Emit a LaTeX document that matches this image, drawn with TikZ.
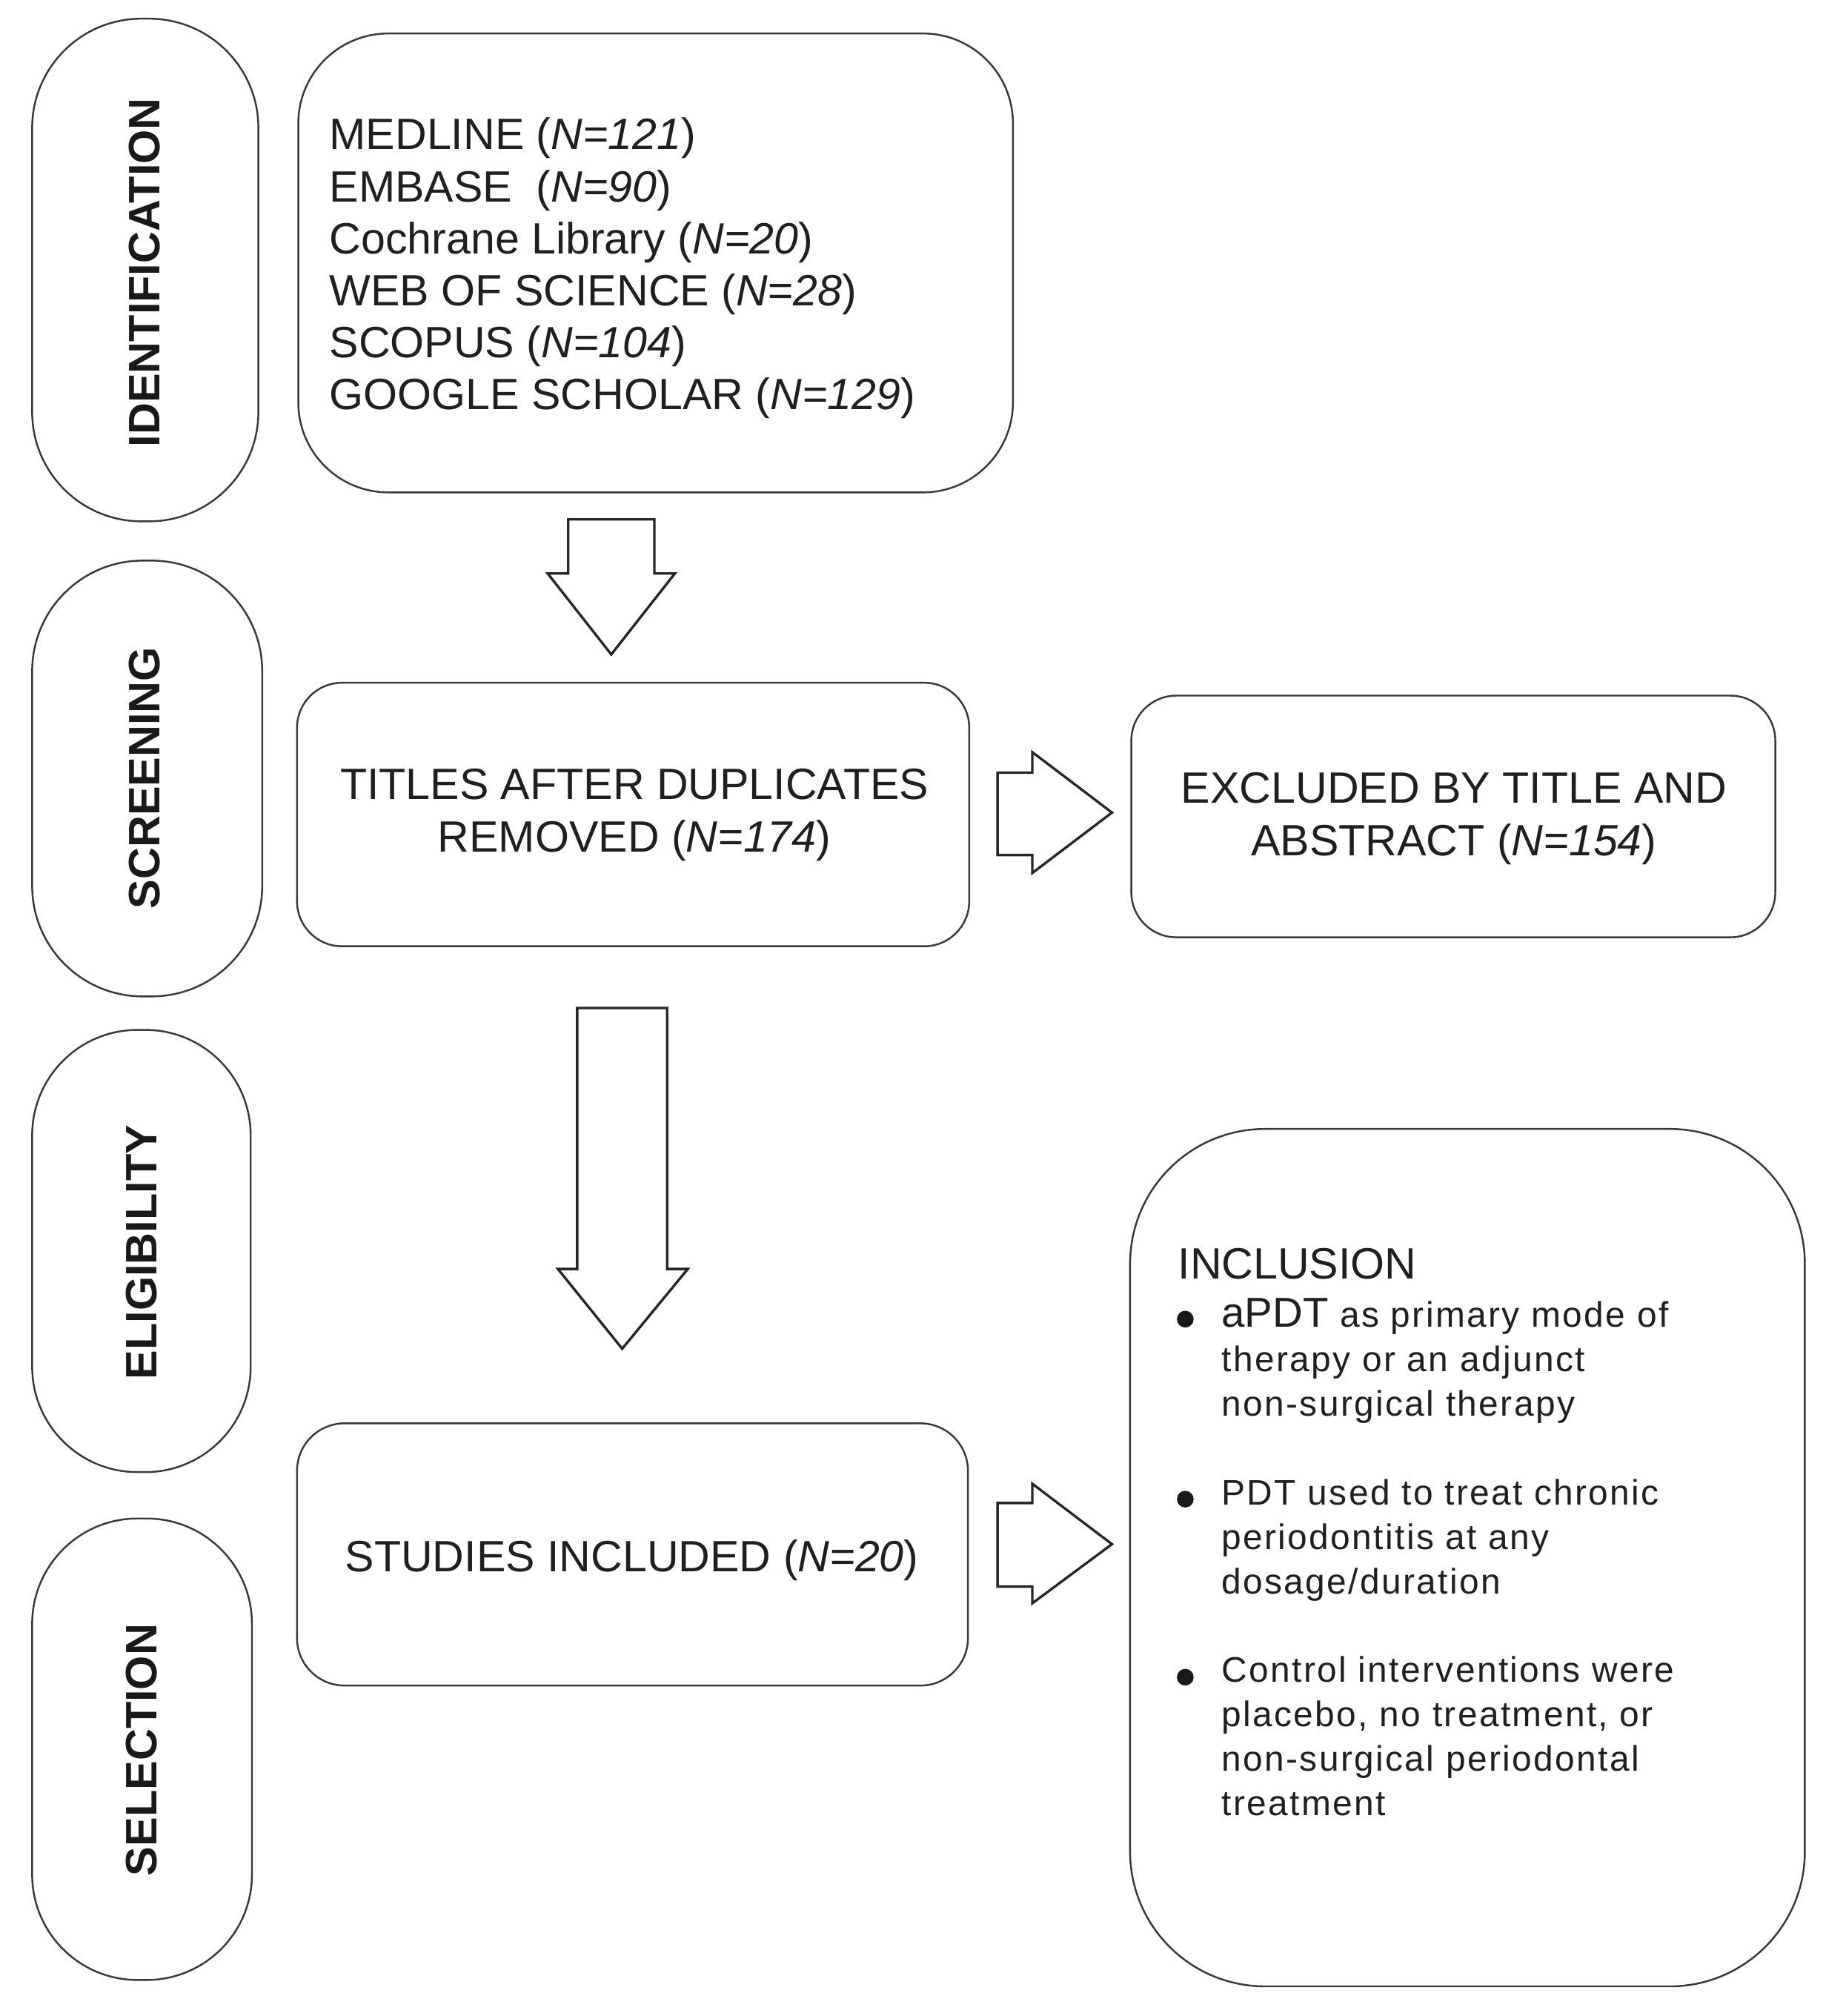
\documentclass[tikz,border=0pt]{standalone}
\usepackage{fontspec}
\setmainfont{Liberation Sans}
\newfontfamily\incfont{Liberation Sans}[LetterSpace=5.0]
\newcommand\apdt{{\rmfamily\fontsize{18.5}{19.7}\selectfont aPDT}}
\newcommand\ind{\hspace*{0.68cm}}
\begin{document}
\begin{tikzpicture}[x=0.02cm,y=-0.02cm,
  box/.style={draw=black!78, line width=0.8pt, rounded corners=#1, inner sep=0pt},
  box/.default=0.7cm,
  pilltext/.style={rotate=90, inner sep=0pt, text=black!90, font=\bfseries\fontsize{19.5}{23}\selectfont},
  maintext/.style={inner sep=0pt, text=black!88, font=\fontsize{19.4}{23.2}\selectfont},
  barrow/.style={draw=black!85, line width=1.1pt, fill=white, line join=miter}]
\useasboundingbox (0,0) rectangle (1420,1568);

% phase pills
\node[box=1.7cm, minimum width=3.52cm, minimum height=7.82cm] (idp) at (113,210) {};
\node[pilltext] (idt) at (112.5,212) {IDENTIFICATION};
\node[box=1.72cm, minimum width=3.58cm, minimum height=6.78cm] (scp) at (114.5,605.5) {};
\node[pilltext] (sct) at (112.5,605) {SCREENING};
\node[box=1.64cm, minimum width=3.40cm, minimum height=6.88cm] (elp) at (110,973) {};
\node[pilltext] (elt) at (110,974) {ELIGIBILITY};
\node[box=1.64cm, minimum width=3.42cm, minimum height=7.18cm] (slp) at (110.5,1360.5) {};
\node[pilltext] (slt) at (110,1361) {SELECTION};

% boxes
\node[box=1.4cm, minimum width=11.12cm, minimum height=7.14cm] (src) at (510,204.5) {};
\node[maintext, anchor=north west, align=left, font=\fontsize{19.4}{23.04}\selectfont] (srct) at (256,91.3)
  {MEDLINE (\textit{N=121})\\
   EMBASE\ \ (\textit{N=90})\\
   Cochrane Library (\textit{N=20})\\
   WEB OF SCIENCE (\textit{N=28})\\
   SCOPUS (\textit{N=104})\\
   GOOGLE SCHOLAR (\textit{N=129})};

\node[box, minimum width=10.46cm, minimum height=4.10cm] (tit) at (492.5,633.5) {};
\node[maintext, align=center] (titt) at (493.5,634) {TITLES AFTER DUPLICATES\\REMOVED (\textit{N=174})};

\node[box, minimum width=10.02cm, minimum height=3.76cm] (exc) at (1130.5,635) {};
\node[maintext, align=center] (exct) at (1131,636.5) {EXCLUDED BY TITLE AND\\ABSTRACT (\textit{N=154})};

\node[box=0.74cm, minimum width=10.44cm, minimum height=4.08cm] (stu) at (492,1209) {};
\node[maintext] (stut) at (491.5,1213.4) {STUDIES INCLUDED (\textit{N=20})};

\node[box=2.1cm, minimum width=10.5cm, minimum height=13.34cm] (inc) at (1141.5,1211.5) {};
\node[inner sep=0pt, anchor=north west, align=left, text=black!88,
      font=\incfont\fontsize{15.7}{19.7}\selectfont] (inct) at (916,970.5)
  {{\rmfamily\fontsize{19.4}{19.7}\selectfont INCLUSION}\\[1.7pt]
   \ind\apdt{} as primary mode of\\
   \ind therapy or an adjunct\\
   \ind non-surgical therapy\\[19.5pt]
   \ind PDT used to treat chronic\\
   \ind periodontitis at any\\
   \ind dosage/duration\\[19.5pt]
   \ind Control interventions were\\
   \ind placebo, no treatment, or\\
   \ind non-surgical periodontal\\
   \ind treatment};
\fill[black!90] (922,1026) circle (0.13cm);
\fill[black!90] (922,1166) circle (0.13cm);
\fill[black!90] (922,1304.5) circle (0.13cm);

% block arrows
\draw[barrow] (442,404) -- (509,404) -- (509,446) -- (525,446) -- (475.5,509) -- (426,446) -- (442,446) -- cycle;
\draw[barrow] (449,784) -- (519,784) -- (519,987) -- (535,987) -- (484,1049) -- (434,987) -- (449,987) -- cycle;
\draw[barrow] (776,601) -- (803,601) -- (803,585) -- (865,632) -- (803,679) -- (803,665) -- (776,665) -- cycle;
\draw[barrow] (776,1169) -- (803,1169) -- (803,1154) -- (865,1201) -- (803,1247) -- (803,1234) -- (776,1234) -- cycle;
\end{tikzpicture}
\end{document}
